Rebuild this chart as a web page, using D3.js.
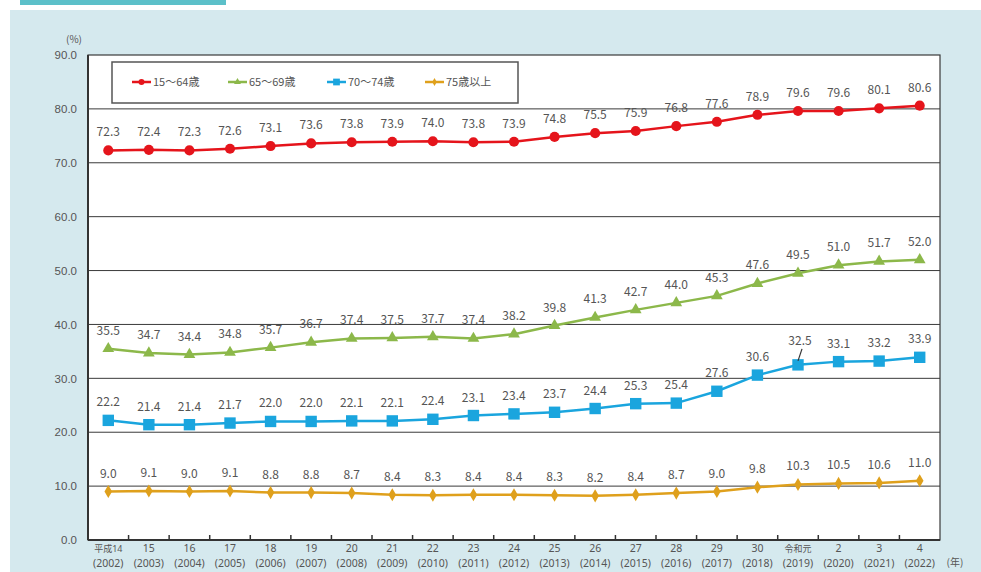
<!DOCTYPE html>
<html>
<head>
<meta charset="utf-8" />
<title>年齢階級別就業率の推移</title>
<style>
  body { margin: 0; background: #fff; }
  svg { display: block; font-family: "Noto Sans CJK JP", "Noto Sans", sans-serif; }
  .lbl { font-size: 12px; fill: #555; }
  .axis text { font-size: 11.5px; fill: #555; }
  .xlab text { font-family: "Noto Sans", "Noto Sans CJK JP", sans-serif; fill: #555; }
</style>
</head>
<body>
<script src="https://cdnjs.cloudflare.com/ajax/libs/d3/7.8.5/d3.min.js"></script>
<script>
var years = ["平成14","15","16","17","18","19","20","21","22","23","24","25","26","27","28","29","30","令和元","2","3","4"];
var westernYears = ["2002","2003","2004","2005","2006","2007","2008","2009","2010","2011","2012","2013","2014","2015","2016","2017","2018","2019","2020","2021","2022"];
var yTicks = [0, 10, 20, 30, 40, 50, 60, 70, 80, 90];

var age15to64 = [72.3,72.4,72.3,72.6,73.1,73.6,73.8,73.9,74.0,73.8,73.9,74.8,75.5,75.9,76.8,77.6,78.9,79.6,79.6,80.1,80.6];
var age65to69 = [35.5,34.7,34.4,34.8,35.7,36.7,37.4,37.5,37.7,37.4,38.2,39.8,41.3,42.7,44.0,45.3,47.6,49.5,51.0,51.7,52.0];
var age70to74 = [22.2,21.4,21.4,21.7,22.0,22.0,22.1,22.1,22.4,23.1,23.4,23.7,24.4,25.3,25.4,27.6,30.6,32.5,33.1,33.2,33.9];
var age75plus = [9.0,9.1,9.0,9.1,8.8,8.8,8.7,8.4,8.3,8.4,8.4,8.3,8.2,8.4,8.7,9.0,9.8,10.3,10.5,10.6,11.0];

var series = [
  { name: "15～64歳", values: age15to64, color: "#e5141b", shape: d3.symbolCircle, size: 80 },
  { name: "65～69歳", values: age65to69, color: "#8cb84a", shape: d3.symbolTriangle, size: 60 },
  { name: "70～74歳", values: age70to74, color: "#1aa5de", shape: d3.symbolSquare, size: 130 },
  { name: "75歳以上", values: age75plus, color: "#dfa01c", shape: d3.symbolDiamond, size: 50 }
];

var W = 981, H = 572;
var svg = d3.select("body").append("svg").attr("width", W).attr("height", H);

// page backdrop
svg.append("rect").attr("x", 0).attr("y", 0).attr("width", W).attr("height", H).attr("fill", "#fff");
svg.append("rect").attr("x", 10).attr("y", 10).attr("width", W - 10).attr("height", H - 10).attr("fill", "#d5e9ee");
svg.append("rect").attr("x", 20).attr("y", 0).attr("width", 206).attr("height", 5).attr("fill", "#5cc0c9");

var plotL = 88, plotR = 940, plotT = 55, plotB = 540;

var x = d3.scaleBand().domain(d3.range(years.length)).range([plotL, plotR]);
var y = d3.scaleLinear().domain([0, 90]).range([plotB, plotT]);
var cx = function(i) { return x(i) + x.bandwidth() / 2; };

svg.append("rect").attr("x", plotL).attr("y", plotT).attr("width", plotR - plotL).attr("height", plotB - plotT).attr("fill", "#fff");

// grid
svg.append("g").selectAll("line").data(yTicks.slice(1, -1)).enter().append("line")
  .attr("x1", plotL).attr("x2", plotR)
  .attr("y1", function(d) { return y(d); }).attr("y2", function(d) { return y(d); })
  .attr("stroke", "#3a3a3a").attr("stroke-width", 1);

// frame
svg.append("rect").attr("x", plotL).attr("y", plotT).attr("width", plotR - plotL).attr("height", plotB - plotT)
  .attr("fill", "none").attr("stroke", "#3a3a3a").attr("stroke-width", 1.2);
svg.append("line").attr("x1", plotL).attr("x2", plotL).attr("y1", plotT).attr("y2", plotB).attr("stroke", "#333").attr("stroke-width", 2);
svg.append("line").attr("x1", plotL).attr("x2", plotR).attr("y1", plotB).attr("y2", plotB).attr("stroke", "#333").attr("stroke-width", 2);

// y axis
var yAxis = svg.append("g").attr("class", "axis")
  .attr("transform", "translate(" + plotL + ",0)")
  .call(d3.axisLeft(y).tickValues(yTicks).tickSize(0).tickPadding(11).tickFormat(d3.format(".1f")));
yAxis.select(".domain").remove();
svg.append("text").attr("x", 74).attr("y", 43).attr("text-anchor", "middle")
  .style("font-size", "10px").attr("fill", "#555").text("(%)");

// x ticks at category boundaries
svg.append("g").selectAll("line").data(d3.range(1, years.length)).enter().append("line")
  .attr("x1", function(i) { return x(i); }).attr("x2", function(i) { return x(i); })
  .attr("y1", plotB).attr("y2", plotB - 5)
  .attr("stroke", "#333").attr("stroke-width", 1.5);

var xl = svg.append("g").attr("class", "xlab");
xl.selectAll("text.era").data(years).enter().append("text")
  .attr("x", function(d, i) { return cx(i); }).attr("y", 552)
  .attr("text-anchor", "middle")
  .style("font-size", function(d) { return d.length > 2 ? "9px" : "10.5px"; })
  .text(function(d) { return d; });
xl.selectAll("text.ad").data(westernYears).enter().append("text")
  .attr("x", function(d, i) { return cx(i); }).attr("y", 567)
  .attr("text-anchor", "middle")
  .style("font-size", "10.5px")
  .text(function(d) { return "(" + d + ")"; });
svg.append("text").attr("x", 955).attr("y", 566).attr("text-anchor", "middle")
  .style("font-size", "10px").attr("fill", "#555").text("(年)");

// lines, markers, labels
var line = d3.line().x(function(d, i) { return cx(i); }).y(function(d) { return y(d); });

series.forEach(function(s, si) {
  var g = svg.append("g");
  g.append("path").datum(s.values).attr("d", line)
    .attr("fill", "none").attr("stroke", s.color).attr("stroke-width", 2.5);
  g.selectAll("path.m").data(s.values).enter().append("path")
    .attr("transform", function(d, i) { return "translate(" + cx(i) + "," + y(d) + ")"; })
    .attr("d", d3.symbol().type(s.shape).size(s.size))
    .attr("fill", s.color);
  g.selectAll("text").data(s.values).enter().append("text")
    .attr("class", "lbl")
    .attr("x", function(d, i) { return cx(i) + (si === 2 && i === 17 ? 2 : 0); })
    .attr("y", function(d, i) { return y(d) - (si === 2 && i === 17 ? 20 : 14); })
    .attr("text-anchor", "middle")
    .text(function(d) { return d.toFixed(1); });
});

// leader line for 令和元 (70～74歳)
svg.append("line")
  .attr("x1", cx(17) + 4).attr("y1", y(age70to74[17]) - 16)
  .attr("x2", cx(17)).attr("y2", y(age70to74[17]) - 4)
  .attr("stroke", "#333").attr("stroke-width", 1.2);

// legend
var lg = svg.append("g");
lg.append("rect").attr("x", 112).attr("y", 62).attr("width", 406).attr("height", 41)
  .attr("fill", "#fff").attr("stroke", "#555").attr("stroke-width", 1.5);
var legendX = [132, 228, 327, 425];
series.forEach(function(s, i) {
  var g = lg.append("g").attr("transform", "translate(" + legendX[i] + ",82)");
  g.append("line").attr("x1", 0).attr("x2", 19).attr("y1", 0).attr("y2", 0)
    .attr("stroke", s.color).attr("stroke-width", 2.5);
  g.append("path").attr("transform", "translate(9.5,0)")
    .attr("d", d3.symbol().type(s.shape).size(s.size * 0.35)).attr("fill", s.color);
  g.append("text").attr("x", 21).attr("y", 4).style("font-size", "11px").attr("fill", "#555").text(s.name);
});
</script>
</body>
</html>
